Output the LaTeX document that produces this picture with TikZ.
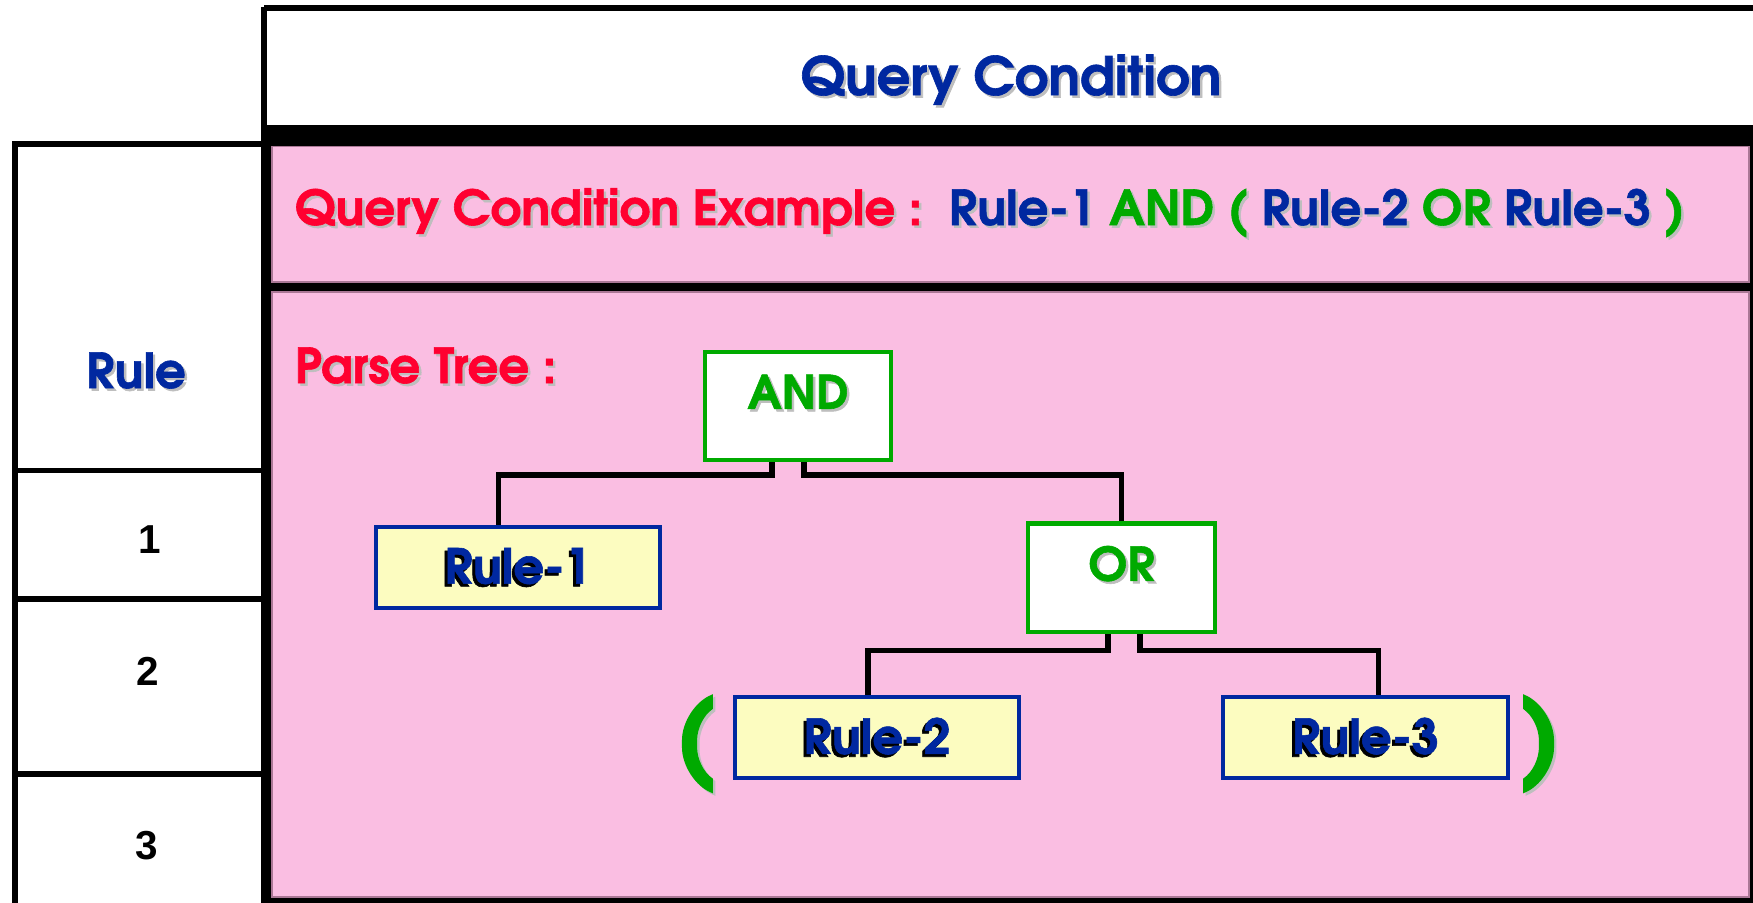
\documentclass[tikz,border=0pt]{standalone}
\usepackage{fontspec}
\setmainfont{texgyreadventor}[Extension=.otf, UprightFont=*-regular, BoldFont=*-bold, BoldFeatures={FakeBold=1.2}]
\newfontfamily\parenfont{texgyreadventor}[Extension=.otf, UprightFont=*-bold, FakeBold=2.5]
\newfontfamily\numfont{Liberation Sans}
\usetikzlibrary{calc}
\pgfdeclarelayer{bg}
\pgfdeclarelayer{wires}
\pgfsetlayers{bg,wires,main}

\definecolor{qblue}{RGB}{0,40,160}
\definecolor{qred}{RGB}{255,0,48}
\definecolor{qgreen}{RGB}{0,170,0}
\definecolor{pinkbg}{RGB}{250,190,226}
\definecolor{pinkedge}{RGB}{170,120,150}
\definecolor{ruleyellow}{RGB}{252,252,192}
\definecolor{shade}{RGB}{190,190,190}

% text with a light drop shadow (down-right)
\newcommand\shtxt[2]{\leavevmode\rlap{\kern0.7pt\raisebox{-0.7pt}{\color{shade}#2}}\textcolor{#1}{#2}}
% text with a dark drop shadow (down-left)
\newcommand\dktxt[1]{\leavevmode\rlap{\kern-0.8pt\raisebox{-0.8pt}{\color{black}#1}}\textcolor{qblue}{#1}}

\begin{document}
\begin{tikzpicture}[x=0.01cm,y=-0.01cm,
  every node/.style={inner sep=0pt, outer sep=0pt},
  bigtxt/.style={font=\fontsize{15}{18}\selectfont\bfseries},
  txt/.style={font=\fontsize{13.7}{16}\selectfont\bfseries},
  optxt/.style={font=\fontsize{13.2}{16}\selectfont\bfseries},
  numtxt/.style={font=\numfont\fontsize{11.5}{13}\selectfont\bfseries},
  paren/.style={font=\parenfont\fontsize{27}{30}\selectfont},
  opbox/.style={draw=qgreen, line width=1.15pt, fill=white, minimum width=1.86cm, minimum height=1.08cm},
  rulebox/.style={draw=qblue, line width=1.15pt, fill=ruleyellow, minimum width=2.84cm, minimum height=0.81cm, txt},
  conn/.style={line width=1.45pt},
  rim/.style={line width=1.6pt},
  panel/.style={draw=pinkedge, line width=0.5pt, fill=pinkbg}
]
\useasboundingbox (0,0) rectangle (1753,902);

\begin{pgfonlayer}{bg}
  % header cell
  \fill[white] (0,0) rectangle (1753,902);
  \draw[rim] (264,8) -- (1760,8);
  \draw[rim] (264,7) -- (264,910);
  % black frame behind the two pink panels
  \fill[black] (264,125) rectangle (1760,910);
  \draw[panel] (272,146.5) rectangle (1749,282);
  \draw[panel] (272,292) rectangle (1749,897);
  % rule column
  \draw[rim] (264,144) -- (15,144) -- (15,910);
  \draw[rim] (15,470.5) -- (264,470.5);
  \draw[rim] (15,599) -- (264,599);
  \draw[rim] (15,774) -- (264,774);
\end{pgfonlayer}

% headings
\node[bigtxt, anchor=base] (hdr) at (1011,95) {\shtxt{qblue}{Query Condition}};
\node[txt, anchor=base] (rulehdr) at (136,388) {\shtxt{qblue}{Rule}};
\node[numtxt, anchor=base] (n1) at (150,553) {1};
\node[numtxt, anchor=base] (n2) at (148,685) {2};
\node[numtxt, anchor=base] (n3) at (147,859) {3};

\node[txt, anchor=base west] (example) at (295,225)
  {\shtxt{qred}{Query Condition Example :}\hspace{0.55em}\shtxt{qblue}{Rule-1}
   \shtxt{qgreen}{AND (} \shtxt{qblue}{Rule-2} \shtxt{qgreen}{OR}
   \shtxt{qblue}{Rule-3} \shtxt{qgreen}{)}};
\node[txt, anchor=base west] (ptree) at (295,383) {\shtxt{qred}{Parse Tree :}};

% parse tree
\node[opbox, label={[optxt, yshift=3.7pt]center:\shtxt{qgreen}{AND}}] (and) at (798,406) {};
\node[opbox, label={[optxt, yshift=3.6pt]center:\shtxt{qgreen}{OR}}] (or) at (1121.5,577.5) {};
\node[rulebox] (rule1) at (518,567.5) {\dktxt{Rule-1}};
\node[rulebox] (rule2) at (877,737.5) {\dktxt{Rule-2}};
\node[rulebox] (rule3) at (1365.5,737.5) {\dktxt{Rule-3}};

\node[paren] (lpar) at (695.5,745) {\shtxt{qgreen}{(}};
\node[paren] (rpar) at (1540.5,745) {\shtxt{qgreen}{)}};

\begin{pgfonlayer}{wires}
  \draw[conn] ($(and.south)+(-26,0)$) -- ++(0,15) -| ($(rule1.north)+(-19.5,0)$);
  \draw[conn] ($(and.south)+(6,0)$) -- ++(0,15) -| (or.north);
  \draw[conn] ($(or.south)+(-13.5,0)$) -- ++(0,19) -| ($(rule2.north)+(-9,0)$);
  \draw[conn] ($(or.south)+(18.5,0)$) -- ++(0,19) -| ($(rule3.north)+(13,0)$);
\end{pgfonlayer}
\end{tikzpicture}
\end{document}
